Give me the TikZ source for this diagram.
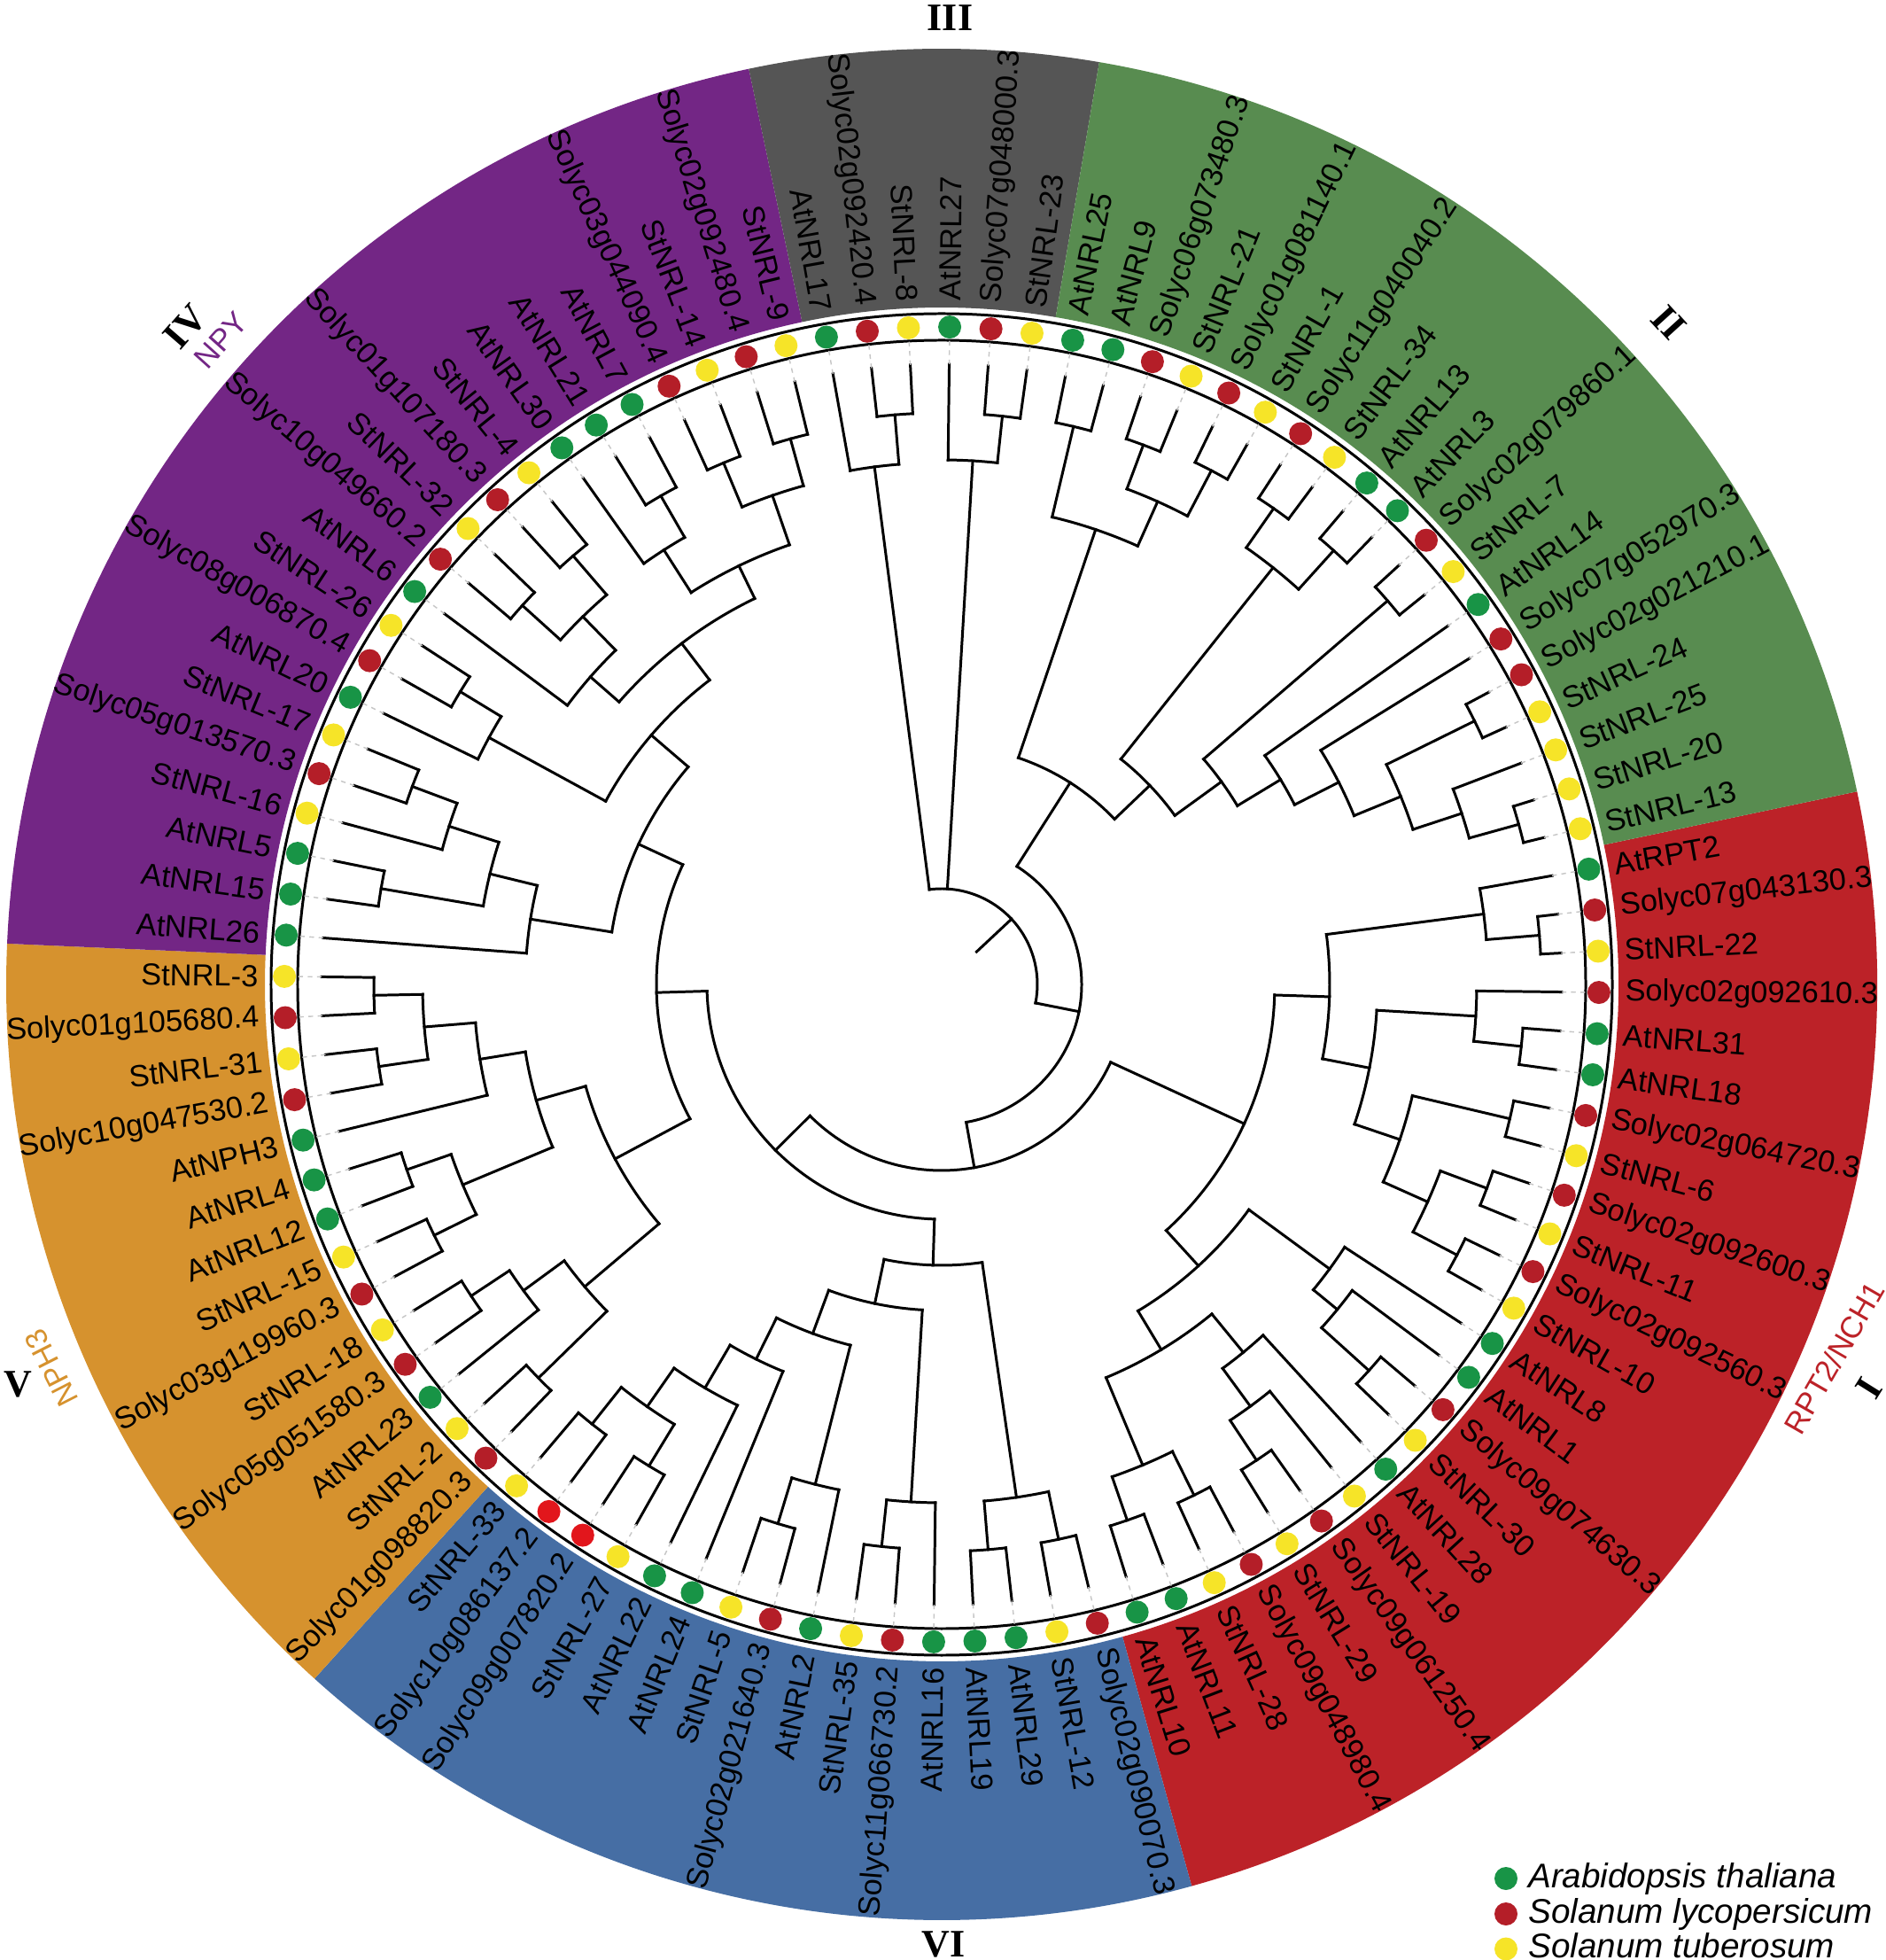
\documentclass[tikz,border=0pt]{standalone}
\usepackage{fontspec}
\setmainfont{Liberation Sans}
\newfontfamily\romfont{Liberation Serif}
\definecolor{secI}{RGB}{188,34,40}
\definecolor{secII}{RGB}{88,140,80}
\definecolor{secIII}{RGB}{85,85,85}
\definecolor{secIV}{RGB}{115,38,133}
\definecolor{secV}{RGB}{214,146,46}
\definecolor{secVI}{RGB}{70,110,164}
\definecolor{cA}{RGB}{24,148,70}
\definecolor{cS}{RGB}{180,30,40}
\definecolor{cT}{RGB}{246,228,40}
\definecolor{cB}{RGB}{226,22,28}
% r, start angle, end angle, parent r
\newcommand\clade[4]{%
  \draw[treeline] (#2:#1) arc[start angle=#2, end angle=#3, radius=#1cm];
  \pgfmathsetmacro\cladeang{(#2+#3)/2}
  \draw[treeline] (\cladeang:#4) -- (\cladeang:#1);
}
\newcommand\secfill[3]{%
  \fill[#3] (#1:7.64) arc[start angle=#1, end angle=#2, radius=7.64cm]
     -- (#2:10.56) arc[start angle=#2, end angle=#1, radius=10.56cm] -- cycle;
}
\begin{document}
\begin{tikzpicture}[
  treeline/.style={line width=0.85pt, line cap=rect},
  ringline/.style={line width=0.85pt},
  leafdash/.style={gray!45, line width=0.4pt, dash pattern=on 1.5pt off 1.5pt},
  leaflab/.style={inner sep=0pt, font=\fontsize{9.8pt}{11pt}\selectfont},
  grpnum/.style={inner sep=0pt, font=\romfont\bfseries\fontsize{12.5pt}{14pt}\selectfont},
  grpsub/.style={inner sep=0pt, font=\fontsize{9.8pt}{11pt}\selectfont},
  legtext/.style={inner sep=0pt, anchor=base west, font=\itshape\fontsize{11pt}{13pt}\selectfont}
]
\useasboundingbox (-10.63,-11.01) rectangle (10.65,11.11);
\fill[white] (-10.63,-11.01) rectangle (10.65,11.11);

% coloured sectors
\secfill{11.9}{-74.5}{secI}
\secfill{-74.5}{-132.1}{secVI}
\secfill{-132.1}{-182.5}{secV}
\secfill{-182.5}{-258.1}{secIV}
\secfill{101.9}{80.3}{secIII}
\secfill{80.3}{11.9}{secII}

% rings
\draw[ringline] (0,0) circle[radius=7.27cm];
\draw[ringline] (0,0) circle[radius=7.57cm];

% ---- tree: clade I
\clade{6.77}{6.5}{2.9}{6.17}
\clade{6.17}{10.1}{4.7}{4.38}
\clade{6.58}{-4.3}{-7.9}{6.04}
\clade{6.04}{-0.7}{-6.1}{4.92}
\clade{6.59}{-11.5}{-15.1}{5.46}
\clade{6.57}{-18.7}{-22.3}{6.01}
\clade{6.57}{-25.9}{-29.5}{6.01}
\clade{6.01}{-20.5}{-27.7}{5.46}
\clade{5.46}{-13.3}{-24.1}{4.92}
\clade{4.92}{-3.4}{-18.7}{4.38}
\clade{4.38}{7.4}{-11.05}{3.76}
\clade{6.50}{-40.3}{-43.9}{5.78}
\clade{5.78}{-36.7}{-42.1}{5.43}
\clade{5.43}{-33.1}{-39.4}{4.30}
\clade{6.44}{-54.7}{-58.3}{5.90}
\clade{5.90}{-51.1}{-56.5}{5.37}
\clade{5.37}{-47.5}{-53.8}{4.81}
\clade{6.43}{-61.9}{-65.5}{5.88}
\clade{6.40}{-69.1}{-72.7}{5.88}
\clade{5.88}{-63.7}{-70.9}{4.81}
\clade{4.81}{-50.65}{-67.3}{4.30}
\clade{4.30}{-36.25}{-58.975}{3.76}
\clade{3.76}{-1.825}{-47.6125}{2.10}
% ---- clade VI
\clade{6.40}{-76.3}{-79.9}{5.85}
\clade{6.40}{-83.5}{-87.1}{5.85}
\clade{5.85}{-78.1}{-85.3}{3.17}
\clade{6.38}{-94.3}{-97.9}{5.85}
\clade{5.85}{-90.7}{-96.1}{3.68}
\clade{6.36}{-105.1}{-108.7}{5.82}
\clade{5.82}{-101.5}{-106.9}{4.20}
\clade{6.36}{-119.5}{-123.1}{5.81}
\clade{6.34}{-126.7}{-130.3}{5.81}
\clade{5.81}{-121.3}{-128.5}{5.28}
\clade{5.28}{-115.9}{-124.9}{4.72}
\clade{4.72}{-112.3}{-120.4}{4.20}
\clade{4.20}{-104.2}{-116.35}{3.68}
\clade{3.68}{-93.4}{-110.275}{3.17}
\clade{3.17}{-81.7}{-101.8375}{2.65}
% ---- clade V
\clade{6.36}{-133.9}{-137.5}{5.28}
\clade{6.37}{-144.7}{-148.3}{5.85}
\clade{5.85}{-141.1}{-146.5}{5.28}
\clade{5.28}{-135.7}{-143.8}{4.18}
\clade{6.39}{-151.9}{-155.5}{5.86}
\clade{6.39}{-159.1}{-162.7}{5.86}
\clade{5.86}{-153.7}{-160.9}{4.76}
\clade{6.42}{-169.9}{-173.5}{5.86}
\clade{6.41}{-177.1}{-180.7}{5.86}
\clade{5.86}{-171.7}{-178.9}{5.28}
\clade{5.28}{-166.3}{-175.3}{4.76}
\clade{4.76}{-157.3}{-170.8}{4.18}
\clade{4.18}{-139.75}{-164.05}{3.22}
% ---- clade IV
\clade{6.42}{-187.9}{-191.5}{5.25}
\clade{6.38}{-198.7}{-202.3}{5.84}
\clade{5.84}{-195.1}{-200.5}{5.25}
\clade{5.25}{-189.7}{-197.8}{4.70}
\clade{4.70}{-184.3}{-193.75}{3.77}
\clade{6.36}{-209.5}{-213.1}{5.82}
\clade{5.82}{-205.9}{-211.3}{4.32}
\clade{6.38}{-220.3}{-223.9}{5.80}
\clade{6.38}{-227.5}{-231.1}{5.80}
\clade{5.80}{-222.1}{-229.3}{5.27}
\clade{5.27}{-216.7}{-225.7}{4.84}
\clade{6.36}{-238.3}{-241.9}{5.82}
\clade{5.82}{-234.7}{-240.1}{5.25}
\clade{6.38}{-245.5}{-249.1}{5.84}
\clade{6.39}{-252.7}{-256.3}{5.84}
\clade{5.84}{-247.3}{-254.5}{5.25}
\clade{5.25}{-237.4}{-250.9}{4.84}
\clade{4.84}{-221.2}{-244.15}{4.32}
\clade{4.32}{-208.6}{-232.675}{3.77}
\clade{3.77}{-189.025}{-220.6375}{3.22}
\clade{3.22}{-151.9}{-204.83}{2.65}
\clade{2.65}{-91.77}{-178.365}{2.10}
\clade{2.10}{-24.72}{-135.07}{1.58}
% ---- clade II
\clade{6.47}{78.5}{74.9}{5.42}
\clade{6.50}{71.3}{67.7}{5.97}
\clade{6.55}{64.1}{60.5}{5.97}
\clade{5.97}{69.5}{62.3}{5.42}
\clade{5.42}{76.7}{65.9}{2.70}
\clade{6.55}{56.9}{53.3}{6.01}
\clade{6.60}{49.7}{46.1}{6.01}
\clade{6.01}{55.1}{47.9}{3.25}
\clade{6.64}{42.5}{38.9}{3.90}
\clade{6.71}{28.1}{24.5}{5.60}
\clade{6.76}{17.3}{13.7}{6.18}
\clade{6.18}{20.9}{15.5}{5.60}
\clade{5.60}{26.3}{18.2}{5.03}
\clade{5.03}{31.7}{22.25}{4.47}
\clade{4.47}{35.3}{26.975}{3.90}
\clade{3.90}{40.7}{31.1375}{3.25}
\clade{3.25}{51.5}{35.91875}{2.70}
\clade{2.70}{71.3}{43.709}{1.58}
\clade{1.58}{57.5}{-79.89}{1.08}
% ---- clade III
\clade{6.45}{96.5}{92.9}{5.89}
\clade{5.89}{100.1}{94.7}{1.08}
\clade{6.45}{85.7}{82.1}{5.92}
\clade{5.92}{89.3}{83.9}{1.08}
% ---- root
\clade{1.08}{97.4}{-11.195}{0.54}

% ---- leaves, dots, labels
\foreach \i/\nm/\spc/\lpr in {
0/AtRPT2/A/6.17, 1/Solyc07g043130.3/S/6.77, 2/StNRL-22/T/6.77, 3/Solyc02g092610.3/S/6.04,
4/AtNRL31/A/6.58, 5/AtNRL18/A/6.58, 6/Solyc02g064720.3/S/6.59, 7/StNRL-6/T/6.59,
8/Solyc02g092600.3/S/6.57, 9/StNRL-11/T/6.57, 10/Solyc02g092560.3/S/6.57, 11/StNRL-10/T/6.57,
12/AtNRL8/A/5.43, 13/AtNRL1/A/5.78, 14/Solyc09g074630.3/S/6.50, 15/StNRL-30/T/6.50,
16/AtNRL28/A/5.37, 17/StNRL-19/T/5.90, 18/Solyc09g061250.4/S/6.44, 19/StNRL-29/T/6.44,
20/Solyc09g048980.4/S/6.43, 21/StNRL-28/T/6.43, 22/AtNRL11/A/6.40, 23/AtNRL10/A/6.40,
24/Solyc02g090070.3/S/6.40, 25/StNRL-12/T/6.40, 26/AtNRL29/A/6.40, 27/AtNRL19/A/6.40,
28/AtNRL16/A/5.85, 29/Solyc11g066730.2/S/6.38, 30/StNRL-35/T/6.38, 31/AtNRL2/A/5.82,
32/Solyc02g021640.3/S/6.36, 33/StNRL-5/T/6.36, 34/AtNRL24/A/4.72, 35/AtNRL22/A/5.28,
36/StNRL-27/T/6.36, 37/Solyc09g007820.2/B/6.36, 38/Solyc10g086137.2/B/6.34, 39/StNRL-33/T/6.34,
40/Solyc01g098820.3/S/6.36, 41/StNRL-2/T/6.36, 42/AtNRL23/A/5.85, 43/Solyc05g051580.3/S/6.37,
44/StNRL-18/T/6.37, 45/Solyc03g119960.3/S/6.39, 46/StNRL-15/T/6.39, 47/AtNRL12/A/6.39,
48/AtNRL4/A/6.39, 49/AtNPH3/A/5.28, 50/Solyc10g047530.2/S/6.42, 51/StNRL-31/T/6.42,
52/Solyc01g105680.4/S/6.41, 53/StNRL-3/T/6.41, 54/AtNRL26/A/4.70, 55/AtNRL15/A/6.42,
56/AtNRL5/A/6.42, 57/StNRL-16/T/5.84, 58/Solyc05g013570.3/S/6.38, 59/StNRL-17/T/6.38,
60/AtNRL20/A/5.82, 61/Solyc08g006870.4/S/6.36, 62/StNRL-26/T/6.36, 63/AtNRL6/A/5.27,
64/Solyc10g049660.2/S/6.38, 65/StNRL-32/T/6.38, 66/Solyc01g107180.3/S/6.38, 67/StNRL-4/T/6.38,
68/AtNRL30/A/5.82, 69/AtNRL21/A/6.36, 70/AtNRL7/A/6.36, 71/Solyc03g044090.4/S/6.38,
72/StNRL-14/T/6.38, 73/Solyc02g092480.4/S/6.39, 74/StNRL-9/T/6.39, 75/AtNRL17/A/5.89,
76/Solyc02g092420.4/S/6.45, 77/StNRL-8/T/6.45, 78/AtNRL27/A/5.92, 79/Solyc07g048000.3/S/6.45,
80/StNRL-23/T/6.45, 81/AtNRL25/A/6.47, 82/AtNRL9/A/6.47, 83/Solyc06g073480.3/S/6.50,
84/StNRL-21/T/6.50, 85/Solyc01g081140.1/S/6.55, 86/StNRL-1/T/6.55, 87/Solyc11g040040.2/S/6.55,
88/StNRL-34/T/6.55, 89/AtNRL13/A/6.60, 90/AtNRL3/A/6.60, 91/Solyc02g079860.1/S/6.64,
92/StNRL-7/T/6.64, 93/AtNRL14/A/4.47, 94/Solyc07g052970.3/S/5.03, 95/Solyc02g021210.1/S/6.71,
96/StNRL-24/T/6.71, 97/StNRL-25/T/6.18, 98/StNRL-20/T/6.76, 99/StNRL-13/T/6.76}{
  \pgfmathsetmacro\ang{10.1-3.6*\i+(\i>74)*360}
  \pgfmathtruncatemacro\lft{(\ang>90)+(\ang<-90)}
  \draw[treeline] (\ang:\lpr) -- (\ang:7);
  \draw[leafdash] (\ang:7) -- (\ang:7.27);
  \fill[c\spc] (\ang:7.42) circle[radius=0.13cm];
  \ifnum\lft=1
    \node[leaflab, anchor=east, rotate=\ang+180] (L\i) at (\ang:7.71) {\nm};
  \else
    \node[leaflab, anchor=west, rotate=\ang] (L\i) at (\ang:7.71) {\nm};
  \fi
}

% ---- group labels
\node[grpnum] (gIII) at (89.5:10.91) {III};
\node[grpnum, rotate=-47.7] (gII) at (42.3:11.10) {II};
\node[grpnum, rotate=58] (gI) at (-23.5:11.42) {I};
\node[grpsub, text=secI, rotate=60] (sI) at (-22.7:10.92) {RPT2/NCH1};
\node[grpnum] (gVI) at (-89.9:10.83) {VI};
\node[grpnum] (gV) at (203.4:11.36) {V};
\node[grpsub, text=secV, rotate=117] (sV) at (203.3:10.94) {NPH3};
\node[grpnum, rotate=49] (gIV) at (139:11.31) {IV};
\node[grpsub, text=secIV, rotate=48] (sIV) at (138.2:10.91) {NPY};

% ---- legend
\fill[cA] (6.37,-10.09) circle[radius=0.13cm];
\node[legtext] (legA) at (6.615,-10.19) {Arabidopsis thaliana};
\fill[cS] (6.37,-10.49) circle[radius=0.13cm];
\node[legtext] (legS) at (6.615,-10.59) {Solanum lycopersicum};
\fill[cT] (6.37,-10.885) circle[radius=0.13cm];
\node[legtext] (legT) at (6.615,-10.985) {Solanum tuberosum};
\end{tikzpicture}
\end{document}
